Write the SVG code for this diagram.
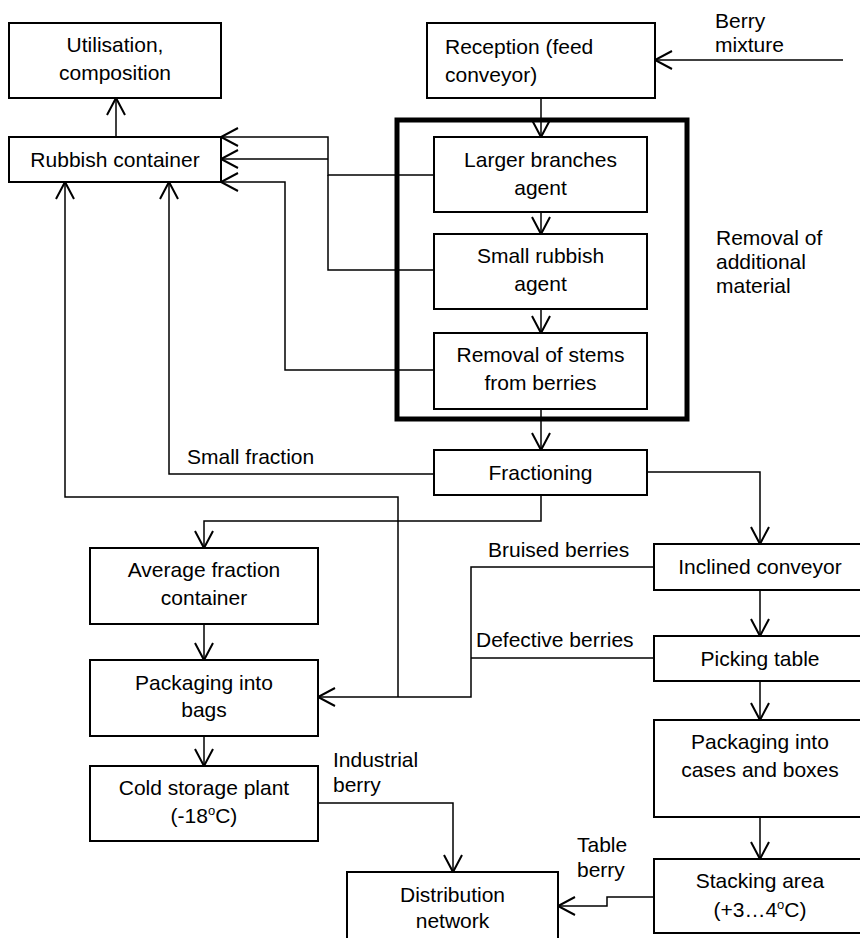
<svg xmlns="http://www.w3.org/2000/svg" width="860" height="938" viewBox="0 0 860 938">
<style>
text{font-family:"Liberation Sans",Arial,sans-serif;font-size:21px;fill:#000}
.c{text-anchor:middle}
.box{fill:#fff;stroke:#000;stroke-width:2}
.thick{fill:none;stroke:#000;stroke-width:5}
.ln{fill:none;stroke:#000;stroke-width:1.5}
.ar{fill:none;stroke:#000;stroke-width:1.5;marker-end:url(#v)}
</style>
<defs>
<marker id="v" markerUnits="userSpaceOnUse" markerWidth="40" markerHeight="40" refX="20" refY="20" orient="auto" overflow="visible">
<path d="M3,11 L20,20 L3,29" fill="none" stroke="#000" stroke-width="2"/>
</marker>
</defs>
<rect class="thick" x="397" y="120" width="290" height="299"/>
<g id="connectors">
<path class="ar" d="M116,137 V98"/>
<path class="ar" d="M541,98 V137"/>
<path class="ar" d="M843,60 H655"/>
<path class="ar" d="M541,212 V234"/>
<path class="ar" d="M541,309 V333"/>
<path class="ar" d="M541,409 V450"/>
<path class="ar" d="M434,175 H328 V137 H221"/>
<path class="ar" d="M328,159 H221"/>
<path class="ln" d="M434,270 H328 V175"/>
<path class="ar" d="M434,370 H285 V182 H221"/>
<path class="ar" d="M434,474 H169 V182"/>
<path class="ar" d="M541,495 V521 H204 V548"/>
<path class="ar" d="M647,472 H760 V544"/>
<path class="ar" d="M204,624 V660"/>
<path class="ar" d="M204,736 V766"/>
<path class="ar" d="M398,697 V497 H65 V182"/>
<path class="ar" d="M654,567 H471 V697 H318"/>
<path class="ln" d="M654,658 H471"/>
<path class="ar" d="M760,590 V636"/>
<path class="ar" d="M760,681 V720"/>
<path class="ar" d="M760,817 V859"/>
<path class="ar" d="M318,803 H453 V872"/>
<path class="ar" d="M654,897 H607 V906 H558"/>
</g>
<g id="labels">
<text x="715" y="28">Berry</text>
<text x="715" y="52">mixture</text>
<text x="716" y="245">Removal of</text>
<text x="716" y="269">additional</text>
<text x="716" y="293">material</text>
<text x="187" y="464">Small fraction</text>
<text x="488" y="557">Bruised berries</text>
<text x="476" y="647">Defective berries</text>
<text x="333" y="767">Industrial</text>
<text x="333" y="792">berry</text>
<text x="577" y="852">Table</text>
<text x="577" y="877">berry</text>
</g>
<g id="utilisation"><rect class="box" x="9" y="23" width="212" height="75"/><text class="c" x="115" y="52">Utilisation,</text><text class="c" x="115" y="80">composition</text></g>
<g id="rubbish"><rect class="box" x="9" y="137" width="212" height="45"/><text class="c" x="115" y="167">Rubbish container</text></g>
<g id="reception"><rect class="box" x="427" y="23" width="228" height="75"/><text x="445" y="54">Reception (feed</text><text x="445" y="82">conveyor)</text></g>
<g id="larger"><rect class="box" x="434" y="137" width="213" height="75"/><text class="c" x="540.5" y="167">Larger branches</text><text class="c" x="540.5" y="195">agent</text></g>
<g id="small"><rect class="box" x="434" y="234" width="213" height="75"/><text class="c" x="540.5" y="263">Small rubbish</text><text class="c" x="540.5" y="291">agent</text></g>
<g id="stems"><rect class="box" x="434" y="333" width="213" height="76"/><text class="c" x="540.5" y="362">Removal of stems</text><text class="c" x="540.5" y="390">from berries</text></g>
<g id="fractioning"><rect class="box" x="434" y="450" width="213" height="45"/><text class="c" x="540.5" y="480">Fractioning</text></g>
<g id="average"><rect class="box" x="90" y="548" width="228" height="76"/><text class="c" x="204" y="577">Average fraction</text><text class="c" x="204" y="605">container</text></g>
<g id="bags"><rect class="box" x="90" y="660" width="228" height="76"/><text class="c" x="204" y="690">Packaging into</text><text class="c" x="204" y="717">bags</text></g>
<g id="cold"><rect class="box" x="90" y="766" width="228" height="75"/><text class="c" x="204" y="795">Cold storage plant</text><text class="c" x="204" y="823">(-18<tspan font-size="13" dy="-8">o</tspan><tspan dy="8">C)</tspan></text></g>
<g id="inclined"><rect class="box" x="654" y="544" width="214" height="46"/><text class="c" x="760" y="574">Inclined conveyor</text></g>
<g id="picking"><rect class="box" x="654" y="636" width="214" height="45"/><text class="c" x="760" y="666">Picking table</text></g>
<g id="cases"><rect class="box" x="654" y="720" width="214" height="97"/><text class="c" x="760" y="749">Packaging into</text><text class="c" x="760" y="777">cases and boxes</text></g>
<g id="stacking"><rect class="box" x="654" y="859" width="214" height="74"/><text class="c" x="760" y="888">Stacking area</text><text class="c" x="760" y="917">(+3…4<tspan font-size="13" dy="-8">o</tspan><tspan dy="8">C)</tspan></text></g>
<g id="distribution"><rect class="box" x="347" y="872" width="211" height="80"/><text class="c" x="452.5" y="902">Distribution</text><text class="c" x="452.5" y="928">network</text></g>
</svg>
